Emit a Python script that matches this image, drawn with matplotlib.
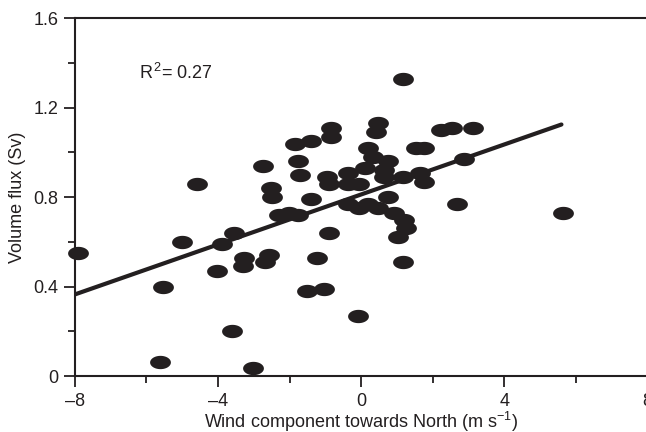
import numpy as np
import matplotlib
matplotlib.use("Agg")
import matplotlib.pyplot as plt
from matplotlib.ticker import MultipleLocator, FuncFormatter

plt.rcParams['font.family'] = ['Liberation Sans', 'DejaVu Sans']
plt.rcParams['mathtext.fontset'] = 'custom'
plt.rcParams['mathtext.rm'] = 'Liberation Sans'
plt.rcParams['mathtext.it'] = 'Liberation Sans:italic'

# wind component towards North (m/s) and volume flux (Sv)
wind = [-7.92, -5.55, -5.63, -5.02, -4.60, -4.04, -3.88, -3.54, -3.60, -3.26,
        -3.29, -3.01, -2.68, -2.57, -2.73, -2.51, -2.48, -2.29, -2.01, -1.76,
        -1.84, -1.39, -1.76, -1.70, -1.39, -1.23, -1.51, -1.03, -0.89, -0.84,
        -0.84, -0.95, -0.89, -0.36, -0.36, -0.06, -0.08, -0.36, -0.06, 0.20,
        0.47, 0.75, 0.92, 1.20, 1.26, 1.03, 1.17, 0.20, 0.33, 0.11,
        0.75, 0.64, 0.64, 0.47, 0.42, 1.17, 1.17, 1.53, 1.76, 1.65,
        1.76, 2.23, 2.54, 3.12, 2.87, 2.68, 5.63]
flux = [0.55, 0.40, 0.063, 0.60, 0.86, 0.47, 0.59, 0.64, 0.20, 0.53,
        0.49, 0.036, 0.51, 0.54, 0.94, 0.84, 0.80, 0.72, 0.73, 0.72,
        1.04, 1.05, 0.96, 0.90, 0.79, 0.53, 0.38, 0.39, 0.64, 1.11,
        1.07, 0.89, 0.86, 0.91, 0.86, 0.86, 0.27, 0.77, 0.75, 0.77,
        0.75, 0.80, 0.73, 0.70, 0.66, 0.62, 0.51, 1.02, 0.98, 0.93,
        0.96, 0.92, 0.89, 1.13, 1.09, 1.33, 0.89, 1.02, 1.02, 0.91,
        0.87, 1.10, 1.11, 1.11, 0.97, 0.77, 0.73]

# regression line end points
fit_x = [-8.0, 5.6]
fit_y = [0.365, 1.125]
r2 = 0.27

dark = '#231f20'

# elliptical marker (wider than tall)
t = np.linspace(0, 2 * np.pi, 40)
ell = np.column_stack([np.cos(t), 0.64 * np.sin(t)])

fig = plt.figure(figsize=(6.46, 4.32), dpi=100)
ax = fig.add_axes([0.116, 0.1296, 0.886, 0.828])

ax.plot(wind, flux, linestyle='none', marker=ell, markersize=15,
        color=dark, markeredgewidth=0, clip_on=False, zorder=3)
ax.plot(fit_x, fit_y, color=dark, linewidth=3.0, solid_capstyle='round', zorder=4)

ax.text(-6.22, 1.356, 'R$^{\\,2}$= %.2f' % r2, fontsize=13, va='center', ha='left', color=dark)

ax.set_xlim(-8, 8)
ax.set_ylim(0, 1.6)
ax.xaxis.set_major_locator(MultipleLocator(4))
ax.xaxis.set_minor_locator(MultipleLocator(2))
ax.yaxis.set_major_locator(MultipleLocator(0.4))
ax.yaxis.set_minor_locator(MultipleLocator(0.2))
ax.xaxis.set_major_formatter(FuncFormatter(lambda v, p: ('%d' % v).replace('-', '\u2013')))
ax.yaxis.set_major_formatter(FuncFormatter(lambda v, p: '0' if v == 0 else '%.1f' % v))

ax.spines['right'].set_visible(False)
for s in ['left', 'bottom', 'top']:
    ax.spines[s].set_linewidth(1.5)
    ax.spines[s].set_color(dark)

ax.tick_params(which='major', direction='out', length=8, width=1.3, color=dark,
               labelsize=13, labelcolor=dark, pad=4)
ax.tick_params(which='minor', direction='out', length=5, width=1.3, color=dark)
ax.tick_params(axis='y', which='major', pad=4)

ax.set_xlabel('Wind component towards North (m s$^{-1}$)', fontsize=13, color=dark, labelpad=0)
ax.set_ylabel('Volume flux (Sv)', fontsize=13, color=dark, labelpad=5)

fig.savefig('out.png', dpi=100)
